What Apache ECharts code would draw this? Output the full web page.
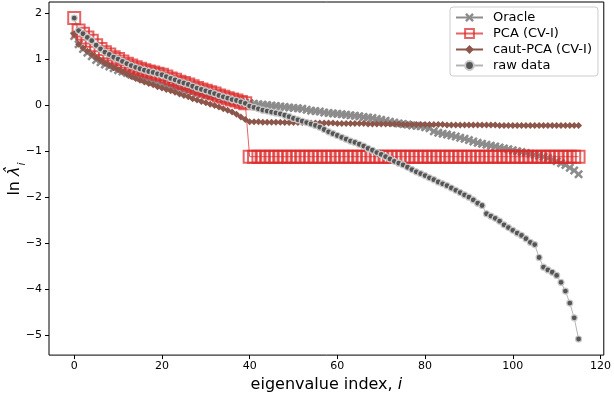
<!DOCTYPE html>
<html>
<head>
<meta charset="utf-8">
<script src="https://cdn.jsdelivr.net/npm/echarts@6/dist/echarts.min.js"></script>
<style>
  html, body { margin: 0; padding: 0; background: #fff; }
  #chart { width: 614px; height: 398px; }
</style>
</head>
<body>
<div id="chart"></div>
<script>
// eigenvalue spectra, ln(lambda_i), i = 0..115
const oracle = [
  1.50, 1.32, 1.22, 1.14, 1.06, 0.98, 0.93, 0.88, 0.84, 0.80,
  0.76, 0.73, 0.70, 0.66, 0.63, 0.60, 0.57, 0.54, 0.51, 0.48,
  0.46, 0.43, 0.41, 0.38, 0.36, 0.33, 0.31, 0.29, 0.26, 0.24,
  0.22, 0.20, 0.18, 0.16, 0.14, 0.12, 0.10, 0.08, 0.07, 0.05,
  0.04, 0.03, 0.02, 0.01, 0.00, -0.01, -0.02, -0.03, -0.04, -0.05,
  -0.06, -0.07, -0.08, -0.10, -0.12, -0.13, -0.14, -0.16, -0.17, -0.18,
  -0.19, -0.20, -0.21, -0.22, -0.23, -0.24, -0.26, -0.27, -0.28, -0.30,
  -0.32, -0.34, -0.36, -0.38, -0.40, -0.41, -0.42, -0.44, -0.45, -0.46,
  -0.48, -0.50, -0.57, -0.60, -0.62, -0.64, -0.66, -0.68, -0.71, -0.73,
  -0.76, -0.79, -0.82, -0.84, -0.86, -0.88, -0.90, -0.92, -0.94, -0.96,
  -0.98, -1.00, -1.02, -1.04, -1.06, -1.08, -1.10, -1.12, -1.15, -1.18,
  -1.22, -1.26, -1.30, -1.36, -1.42, -1.50
];

const pcaCV = [
  1.89, 1.62, 1.55, 1.47, 1.40, 1.30, 1.22, 1.15, 1.10, 1.04,
  1.00, 0.95, 0.90, 0.86, 0.82, 0.79, 0.76, 0.73, 0.71, 0.68,
  0.66, 0.62, 0.58, 0.55, 0.51, 0.48, 0.45, 0.41, 0.37, 0.34,
  0.31, 0.28, 0.25, 0.21, 0.18, 0.15, 0.12, 0.10, 0.07, 0.04,
  -1.12, -1.12, -1.12, -1.12, -1.12, -1.12, -1.12, -1.12, -1.12, -1.12,
  -1.12, -1.12, -1.12, -1.12, -1.12, -1.12, -1.12, -1.12, -1.12, -1.12,
  -1.12, -1.12, -1.12, -1.12, -1.12, -1.12, -1.12, -1.12, -1.12, -1.12,
  -1.12, -1.12, -1.12, -1.12, -1.12, -1.12, -1.12, -1.12, -1.12, -1.12,
  -1.12, -1.12, -1.12, -1.12, -1.12, -1.12, -1.12, -1.12, -1.12, -1.12,
  -1.12, -1.12, -1.12, -1.12, -1.12, -1.12, -1.12, -1.12, -1.12, -1.12,
  -1.12, -1.12, -1.12, -1.12, -1.12, -1.12, -1.12, -1.12, -1.12, -1.12,
  -1.12, -1.12, -1.12, -1.12, -1.12, -1.12
];

const cautPCA = [
  1.55, 1.32, 1.24, 1.17, 1.10, 1.03, 0.97, 0.91, 0.86, 0.81,
  0.77, 0.72, 0.67, 0.62, 0.58, 0.54, 0.50, 0.47, 0.44, 0.40,
  0.37, 0.34, 0.31, 0.28, 0.24, 0.21, 0.18, 0.14, 0.11, 0.08,
  0.05, 0.02, -0.01, -0.04, -0.08, -0.11, -0.15, -0.20, -0.26, -0.31,
  -0.36, -0.36, -0.36, -0.37, -0.37, -0.37, -0.37, -0.37, -0.38, -0.38,
  -0.38, -0.38, -0.38, -0.38, -0.39, -0.39, -0.39, -0.39, -0.39, -0.39,
  -0.40, -0.40, -0.40, -0.40, -0.40, -0.40, -0.40, -0.41, -0.41, -0.41,
  -0.41, -0.41, -0.41, -0.41, -0.41, -0.42, -0.42, -0.42, -0.42, -0.42,
  -0.42, -0.42, -0.42, -0.42, -0.42, -0.43, -0.43, -0.43, -0.43, -0.43,
  -0.43, -0.43, -0.43, -0.43, -0.43, -0.43, -0.43, -0.44, -0.44, -0.44,
  -0.44, -0.44, -0.44, -0.44, -0.44, -0.44, -0.44, -0.44, -0.44, -0.44,
  -0.44, -0.44, -0.44, -0.44, -0.44, -0.44
];

const rawData = [
  1.89, 1.62, 1.55, 1.47, 1.40, 1.30, 1.22, 1.15, 1.10, 1.04,
  1.00, 0.95, 0.90, 0.86, 0.82, 0.79, 0.76, 0.73, 0.71, 0.68,
  0.66, 0.62, 0.58, 0.55, 0.51, 0.48, 0.45, 0.41, 0.37, 0.34,
  0.31, 0.28, 0.25, 0.21, 0.18, 0.15, 0.12, 0.10, 0.07, 0.04,
  -0.02, -0.05, -0.08, -0.11, -0.13, -0.15, -0.17, -0.19, -0.22, -0.25,
  -0.29, -0.32, -0.35, -0.38, -0.41, -0.44, -0.48, -0.53, -0.58, -0.62,
  -0.66, -0.70, -0.74, -0.78, -0.81, -0.85, -0.89, -0.94, -0.98, -1.03,
  -1.07, -1.12, -1.17, -1.22, -1.26, -1.30, -1.35, -1.40, -1.45, -1.49,
  -1.53, -1.58, -1.62, -1.67, -1.71, -1.75, -1.80, -1.85, -1.90, -1.95,
  -2.00, -2.06, -2.13, -2.18, -2.36, -2.41, -2.46, -2.52, -2.60, -2.66,
  -2.72, -2.78, -2.83, -2.90, -2.98, -3.03, -3.31, -3.52, -3.58, -3.63,
  -3.70, -3.85, -4.04, -4.30, -4.62, -5.08
];

const xTicks = [0, 20, 40, 60, 80, 100, 120];
const yTicks = [-5, -4, -3, -2, -1, 0, 1, 2];

const FONT = 'DejaVu Sans';
const X_MARK = 'path://M0,2L2,0L5,3L8,0L10,2L7,5L10,8L8,10L5,7L2,10L0,8L3,5Z';

function pairs(arr) {
  return arr.map((v, i) => [i, v]);
}

function tickFmt(v) {
  return v < 0 ? '\u2212' + Math.abs(v) : String(v);
}

const chart = echarts.init(document.getElementById('chart'));

chart.setOption({
  animation: false,
  backgroundColor: '#fff',
  textStyle: { fontFamily: FONT },
  grid: {
    left: 49, right: 9, top: 2, bottom: 37,
    show: true, borderColor: '#000', borderWidth: 1
  },
  legend: {
    orient: 'vertical',
    left: 450,
    top: 7,
    padding: [4, 6, 4, 5],
    itemGap: 3,
    itemWidth: 27,
    itemHeight: 11,
    backgroundColor: 'rgba(255,255,255,0.8)',
    borderColor: '#ccc',
    borderWidth: 1,
    borderRadius: 3,
    textStyle: { fontFamily: FONT, fontSize: 13, color: '#000', padding: [0, 0, 0, 5] },
    data: ['Oracle', 'PCA (CV-I)', 'caut-PCA (CV-I)', 'raw data']
  },
  xAxis: {
    type: 'value',
    min: -5.75,
    max: 120.75,
    name: '{a|eigenvalue index, }{b|i}',
    nameLocation: 'middle',
    nameGap: 14,
    nameTextStyle: {
      rich: {
        a: { fontFamily: FONT, fontSize: 16, color: '#000' },
        b: { fontFamily: FONT, fontSize: 16, fontStyle: 'italic', color: '#000' }
      }
    },
    axisLine: { show: false, onZero: false },
    splitLine: { show: false },
    axisTick: { show: true, customValues: xTicks, length: 4, lineStyle: { color: '#000' } },
    axisLabel: { customValues: xTicks, formatter: tickFmt, margin: 6, fontFamily: FONT, fontSize: 11, color: '#000' }
  },
  yAxis: {
    type: 'value',
    min: -5.43,
    max: 2.24,
    axisLine: { show: false, onZero: false },
    splitLine: { show: false },
    axisTick: { show: true, customValues: yTicks, length: 4, lineStyle: { color: '#000' } },
    axisLabel: { customValues: yTicks, formatter: tickFmt, margin: 7, fontFamily: FONT, fontSize: 11, color: '#000' }
  },
  graphic: [{
    type: 'text',
    x: 17,
    y: 179,
    rotation: Math.PI / 2,
    style: {
      text: '{a|ln }{b|\u03BB\u0302}{c|i}',
      align: 'center',
      verticalAlign: 'middle',
      rich: {
        a: { fontFamily: FONT, fontSize: 16, lineHeight: 20, verticalAlign: 'top', fill: '#000' },
        b: { fontFamily: FONT, fontSize: 16, fontStyle: 'italic', lineHeight: 20, verticalAlign: 'top', fill: '#000' },
        c: { fontFamily: FONT, fontSize: 11, fontStyle: 'italic', lineHeight: 12, padding: [10, 0, 0, 1], verticalAlign: 'top', fill: '#000' }
      }
    }
  }],
  series: [
    {
      name: 'Oracle',
      type: 'line',
      data: pairs(oracle),
      symbol: X_MARK,
      symbolSize: 9,
      itemStyle: { color: '#8c8c8c' },
      lineStyle: { color: '#8c8c8c', width: 1.5 }
    },
    {
      name: 'PCA (CV-I)',
      type: 'line',
      data: pairs(pcaCV),
      symbol: 'rect',
      symbolSize: 12,
      itemStyle: { color: 'rgba(0,0,0,0)', borderColor: 'rgba(220,40,40,0.72)', borderWidth: 2 },
      lineStyle: { color: 'rgba(220,40,40,0.72)', width: 1 }
    },
    {
      name: 'caut-PCA (CV-I)',
      type: 'line',
      data: pairs(cautPCA),
      symbol: 'diamond',
      symbolSize: 7,
      itemStyle: { color: '#8c564b' },
      lineStyle: { color: '#8c564b', width: 1.5 }
    },
    {
      name: 'raw data',
      type: 'line',
      data: pairs(rawData),
      symbol: 'circle',
      symbolSize: 6,
      itemStyle: { color: '#555', borderColor: '#c8c8c8', borderWidth: 1.2 },
      lineStyle: { color: '#b4b4b4', width: 1 }
    }
  ]
});
</script>
</body>
</html>
